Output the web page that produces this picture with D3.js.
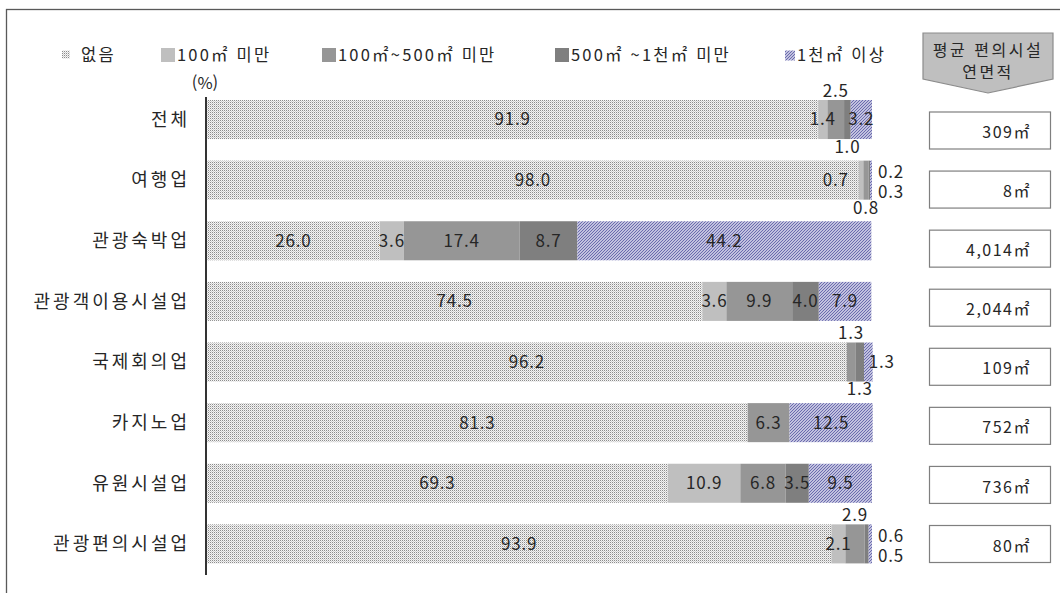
<!DOCTYPE html>
<html lang="ko">
<head>
<meta charset="UTF-8">
<title>편의시설 연면적</title>
<script src="https://cdn.jsdelivr.net/npm/d3@7/dist/d3.min.js"></script>
<style>
  body { margin: 0; background: #fff; }
  svg text { font-family: "Noto Sans CJK KR", "Noto Sans", sans-serif; fill: #262626; }
</style>
</head>
<body>
<div id="chart"></div>
<script>
// 데이터
const categories = ["전체", "여행업", "관광숙박업", "관광객이용시설업", "국제회의업", "카지노업", "유원시설업", "관광편의시설업"];
const seriesNames = ["없음", "100㎡ 미만", "100㎡~500㎡ 미만", "500㎡ ~1천㎡ 미만", "1천㎡ 이상"];
const noneVals   = [91.9, 98.0, 26.0, 74.5, 96.2, 81.3, 69.3, 93.9];
const under100   = [1.4, 0.7, 3.6, 3.6, 0, 0, 10.9, 2.1];
const s100to500  = [2.5, 0.8, 17.4, 9.9, 1.3, 6.3, 6.8, 2.9];
const s500to1000 = [1.0, 0.2, 8.7, 4.0, 1.3, 0, 3.5, 0.6];
const over1000   = [3.2, 0.3, 44.2, 7.9, 1.3, 12.5, 9.5, 0.5];
const avgArea    = ["309㎡", "8㎡", "4,014㎡", "2,044㎡", "109㎡", "752㎡", "736㎡", "80㎡"];
// 라벨 위치 (in / above / below / left / right / rtop / rbot)
const labelPlace = [
  ["in", "in", "above", "below", "in"],
  ["in", "left", "below", "rtop", "rbot"],
  ["in", "in", "in", "in", "in"],
  ["in", "in", "in", "in", "in"],
  ["in", null, "above", "below", "right"],
  ["in", null, "in", null, "in"],
  ["in", "in", "in", "in", "in"],
  ["in", "in", "above", "rtop", "rbot"]
];

const width = 1060, height = 593;
const keys = ["s0", "s1", "s2", "s3", "s4"];
const table = categories.map((c, i) => ({
  cat: c, s0: noneVals[i], s1: under100[i], s2: s100to500[i], s3: s500to1000[i], s4: over1000[i]
}));

const svg = d3.select("#chart").append("svg")
  .attr("width", width).attr("height", height);

const defs = svg.append("defs");
const dots = defs.append("pattern").attr("id", "dots")
  .attr("width", 2).attr("height", 2).attr("patternUnits", "userSpaceOnUse");
dots.append("rect").attr("width", 2).attr("height", 2).attr("fill", "#f4f4f4");
dots.append("rect").attr("width", 1).attr("height", 1).attr("fill", "#8c8c8c");
dots.append("rect").attr("x", 1).attr("y", 1).attr("width", 1).attr("height", 1).attr("fill", "#cfcfcf");

const hatch = defs.append("pattern").attr("id", "hatch")
  .attr("width", 3).attr("height", 3).attr("patternUnits", "userSpaceOnUse");
hatch.append("rect").attr("width", 3).attr("height", 3).attr("fill", "#e8e8f4");
hatch.append("path").attr("d", "M0,3 L3,0 M-1,1 L1,-1 M2,4 L4,2")
  .attr("stroke", "#6464aa").attr("stroke-width", 1.1);

const fills = ["url(#dots)", "#bfbfbf", "#969696", "#7f7f7f", "url(#hatch)"];

// 바깥 테두리
svg.append("rect").attr("x", 6.5).attr("y", 9.5).attr("width", 1070).attr("height", 600)
  .attr("fill", "none").attr("stroke", "#595959").attr("stroke-width", 1.3);

const x = d3.scaleLinear().domain([0, 100]).range([207, 872]);
const y = d3.scaleBand().domain(categories).range([89.2, 574.2]).paddingInner(0.356).paddingOuter(0.178);
const boxY = d3.scalePoint().domain(categories).range([130.5, 544]);

const stacked = d3.stack().keys(keys)(table);

const layers = svg.append("g").selectAll("g").data(stacked).enter().append("g")
  .attr("fill", (d, i) => fills[i]);

layers.selectAll("rect").data(d => d).enter().append("rect")
  .attr("x", d => x(d[0]))
  .attr("y", d => y(d.data.cat))
  .attr("width", d => Math.max(0, x(d[1]) - x(d[0])))
  .attr("height", y.bandwidth());

// 축 선
svg.append("line").attr("x1", 206).attr("x2", 206).attr("y1", 97).attr("y2", 575)
  .attr("stroke", "#000").attr("stroke-width", 1.6);

// 카테고리 라벨
svg.append("g").selectAll("text").data(categories).enter().append("text")
  .attr("x", 190).attr("y", d => y(d) + y.bandwidth() / 2)
  .attr("dy", "0.35em").attr("text-anchor", "end")
  .style("font-size", "18px").style("letter-spacing", "3px")
  .text(d => d);

// 값 라벨
const labels = [];
stacked.forEach((layer, si) => {
  layer.forEach((d, ci) => {
    const place = labelPlace[ci][si];
    if (!place) return;
    const x0 = x(d[0]), x1 = x(d[1]);
    const top = y(d.data.cat), cy = top + y.bandwidth() / 2, bot = top + y.bandwidth();
    const end = x(d3.sum(keys, k => d.data[k]));
    let lx = (x0 + x1) / 2, ly = cy, anchor = "middle";
    if (place === "above") ly = top - 9;
    else if (place === "below") ly = bot + 8;
    else if (place === "left") { lx = x0 - 10; anchor = "end"; }
    else if (place === "right") { lx = end - 4; anchor = "start"; }
    else if (place === "rtop") { lx = end + 6; ly = cy - 8; anchor = "start"; }
    else if (place === "rbot") { lx = end + 6; ly = cy + 12; anchor = "start"; }
    labels.push({ x: lx, y: ly, anchor: anchor, text: d3.format(".1f")(d[1] - d[0]) });
  });
});
svg.append("g").selectAll("text").data(labels).enter().append("text")
  .attr("x", d => d.x).attr("y", d => d.y).attr("dy", "0.35em")
  .attr("text-anchor", d => d.anchor)
  .style("font-size", "17px").style("letter-spacing", "0.8px")
  .text(d => d.text);

// 범례
const legendX = [62, 161, 322, 555, 785];
const legendY = 55;
const lg = svg.append("g").selectAll("g").data(seriesNames).enter().append("g")
  .attr("transform", (d, i) => `translate(${legendX[i]},${legendY})`);
lg.append("rect")
  .attr("x", 0)
  .attr("y", (d, i) => (i === 0 || i === 4) ? -4.5 : -7)
  .attr("width", (d, i) => i === 0 ? 8 : (i === 4 ? 10 : 14))
  .attr("height", (d, i) => i === 0 ? 8 : (i === 4 ? 10 : 14))
  .attr("fill", (d, i) => fills[i]);
lg.append("text")
  .attr("x", (d, i) => i === 0 ? 19 : (i === 4 ? 12 : 16))
  .attr("dy", "0.35em")
  .style("font-size", "16.5px").style("letter-spacing", "2.2px")
  .text(d => d);

svg.append("text").attr("x", 205).attr("y", 83).attr("dy", "0.35em")
  .attr("text-anchor", "middle").style("font-size", "16.5px")
  .text("(%)");

// 평균 편의시설 연면적 헤더
svg.append("polygon")
  .attr("points", "923,33 1053,33 1053,79 988,93 923,79")
  .attr("fill", "#bfbfbf").attr("stroke", "#8c8c8c").attr("stroke-width", 1.2);
svg.append("text").attr("x", 988).attr("y", 50).attr("dy", "0.35em")
  .attr("text-anchor", "middle").style("font-size", "16px").style("letter-spacing", "2.5px")
  .text("평균 편의시설");
svg.append("text").attr("x", 988).attr("y", 72).attr("dy", "0.35em")
  .attr("text-anchor", "middle").style("font-size", "16px").style("letter-spacing", "2.5px")
  .text("연면적");

// 평균 연면적 박스
const boxes = svg.append("g").selectAll("g").data(categories).enter().append("g")
  .attr("transform", d => `translate(0,${boxY(d)})`);
boxes.append("rect")
  .attr("x", 929.5).attr("y", -18.5).attr("width", 121).attr("height", 37)
  .attr("fill", "#fff").attr("stroke", "#7f7f7f").attr("stroke-width", 1.2);
boxes.append("text")
  .attr("x", 1031).attr("y", 2).attr("dy", "0.35em").attr("text-anchor", "end")
  .style("font-size", "16px").style("letter-spacing", "1.5px")
  .text((d, i) => avgArea[i]);
</script>
</body>
</html>
